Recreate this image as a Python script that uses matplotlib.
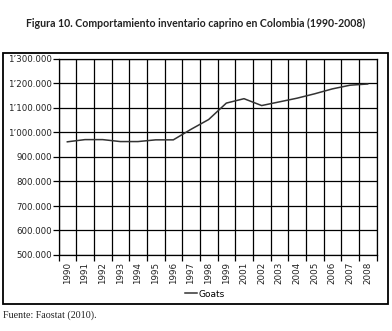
import matplotlib.pyplot as plt
from matplotlib.patches import Rectangle
from matplotlib.ticker import FixedLocator, FuncFormatter

# datos (inventario caprino, cabezas)
years = ['1990', '1991', '1992', '1993', '1994', '1995', '1996', '1997', '1998',
         '1999', '2001', '2002', '2003', '2004', '2005', '2006', '2007', '2008']
goats = [962000, 971000, 971000, 963000, 963000, 970000, 970000, 1013000, 1053000,
         1120000, 1138000, 1110000, 1125000, 1140000, 1158000, 1178000, 1193000, 1198000]
y_ticks = [500000, 600000, 700000, 800000, 900000, 1000000, 1100000, 1200000, 1300000]


def miles(v, pos):
    s = f"{int(v):,}".replace(",", ".")
    if v >= 1000000:
        s = s.replace(".", "\u2019", 1)
    return s


fig = plt.figure(figsize=(3.92, 3.31), dpi=100)
ax = fig.add_axes([58.5 / 392, 1 - 255 / 331, (376.5 - 58.5) / 392, (255 - 59) / 331])

x = list(range(len(years)))
ax.plot(x, goats, color='#333333', linewidth=1.1, label='Goats', zorder=3)

ax.set_xlim(-0.5, len(years) - 0.5)
ax.set_ylim(500000, 1300000)
ax.set_xticks(x)
ax.set_xticklabels(years, rotation=90, fontsize=6.3, color='#222222')
ax.xaxis.set_minor_locator(FixedLocator([i - 0.5 for i in range(len(years) + 1)]))
ax.tick_params(axis='x', which='major', length=0, pad=5)
ax.tick_params(axis='x', which='minor', length=4, width=0.9, direction='out')
ax.set_yticks(y_ticks)
ax.yaxis.set_major_formatter(FuncFormatter(miles))
ax.tick_params(axis='y', length=4, width=0.9, pad=1, labelsize=6.2, labelcolor='#222222')

ax.grid(True, axis='x', which='minor', color='black', linewidth=0.9)
ax.grid(True, axis='y', which='major', color='black', linewidth=0.9)
for s in ax.spines.values():
    s.set_linewidth(0.9)

leg = ax.legend(loc='upper center', bbox_to_anchor=(0.46, -0.135), frameon=False,
                fontsize=6.5, handlelength=1.3, handletextpad=0.2)

fig.text(0.5, 1 - 23 / 331, 'Figura 10. Comportamiento inventario caprino en Colombia (1990-2008)',
         ha='center', va='center', fontsize=7.6, fontweight='bold', family='Lato', color='#222222')
fig.patches.append(Rectangle((3 / 392, 1 - 304 / 331), 385 / 392, 251 / 331,
                             transform=fig.transFigure, fill=False, edgecolor='black', linewidth=1.3))
fig.text(3 / 392, 1 - 315 / 331, 'Fuente: Faostat (2010).', ha='left', va='center',
         fontsize=7.2, family='Liberation Serif', color='#222222')

fig.savefig('out.png', dpi=100)
